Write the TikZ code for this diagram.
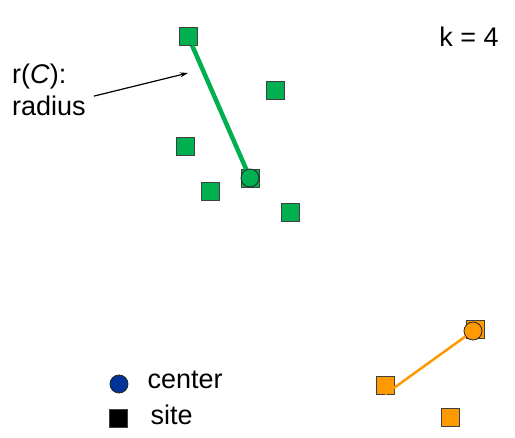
\documentclass[tikz,border=0pt]{standalone}
\usepackage{fontspec}
\setmainfont{Liberation Sans}
\usetikzlibrary{arrows.meta,positioning}
\definecolor{sitegreen}{RGB}{0,176,80}
\definecolor{siteorange}{RGB}{255,153,0}
\definecolor{centerblue}{RGB}{0,51,153}

\begin{document}
\begin{tikzpicture}[x=1pt,y=-1pt,
  site/.style={draw=black!75, fill=#1, minimum size=18pt, inner sep=0pt, line width=0.8pt},
  centernode/.style={circle, draw=black!85, fill=#1, minimum size=18pt, inner sep=0pt, line width=0.8pt},
  txt/.style={font=\fontsize{27}{32}\selectfont, inner sep=0pt}]

\useasboundingbox (0,0) rectangle (515,438);

% first cluster, radius drawn
\node[site=sitegreen] (g1) at (188,36) {};
\node[site=sitegreen] (g2) at (275,90) {};
\node[site=sitegreen] (g3) at (185,146) {};
\node[site=sitegreen] (g4) at (250,178) {};
\node[site=sitegreen] (g5) at (210,191) {};
\node[site=sitegreen] (g6) at (290,212) {};
\draw[sitegreen, line width=4.5pt] (g1) -- (g4.center);
\node[centernode=sitegreen] (c1) at (g4) {};

% second cluster
\node[site=siteorange] (o1) at (475,329) {};
\node[site=siteorange] (o2) at (385,385) {};
\node[site=siteorange] (o3) at (450,417) {};
\node[centernode=siteorange] (c2) at (473,331) {};
\draw[siteorange, line width=2.5pt] (c2) -- (o2.south);

% labels
\node[txt] (k) at (469,37) {k = 4};
\node[txt, align=left, anchor=north west] (rlab) at (12,64) {r(\textit{C}):\\radius};
\coordinate (rtip) at (188,73);
\draw[-{Stealth[length=8pt,width=5pt]}, line width=1.2pt] ([shift={(8,6)}]rlab.east) -- (rtip);

% legend
\node[centernode=centerblue] (lc) at (119,384) {};
\node[site=black] (ls) at (118,418) {};
\node[txt, right=19pt of lc, yshift=4pt] (lctext) {center};
\node[txt, right=23pt of ls, yshift=3pt] (lstext) {site};

\end{tikzpicture}
\end{document}
